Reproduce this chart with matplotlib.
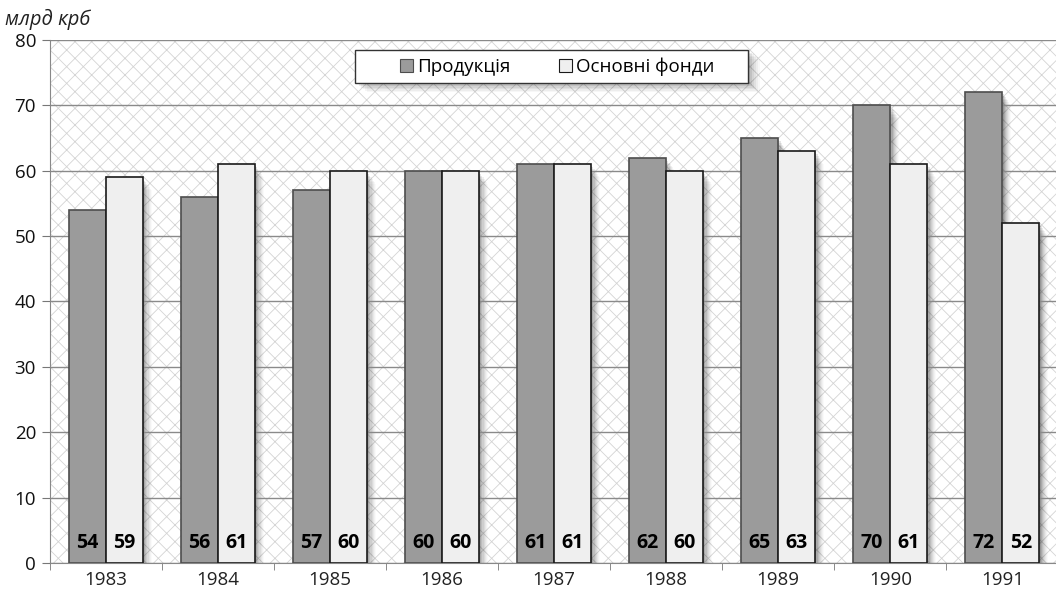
import numpy as np
import matplotlib
matplotlib.use("Agg")
import matplotlib.pyplot as plt
from matplotlib.patches import Rectangle

years = ["1983", "1984", "1985", "1986", "1987", "1988", "1989", "1990", "1991"]
production = [54, 56, 57, 60, 61, 62, 65, 70, 72]
fixed_assets = [59, 61, 60, 60, 61, 60, 63, 61, 52]
series_names = ["Продукція", "Основні фонди"]

plt.rcParams["font.family"] = ["Open Sans", "DejaVu Sans"]
plt.rcParams["hatch.linewidth"] = 0.6
plt.rcParams["hatch.color"] = "#d4d4d4"

W, H = 1056, 594
fig = plt.figure(figsize=(W / 100, H / 100), dpi=100)
ax = fig.add_axes([0.0473, 0.0522, 0.955, 0.8805])

x = np.arange(len(years))
w = 0.33

# hatched plot area background
ax.add_patch(Rectangle((0, 0), 1, 1, transform=ax.transAxes, facecolor="white",
                       edgecolor="#d4d4d4", hatch="xx", linewidth=0, zorder=0))

# soft shadows to the right of bars
for k, a in enumerate([0.12, 0.10, 0.08, 0.06, 0.05, 0.04, 0.03, 0.02]):
    off = 0.010 * (k + 1)
    ax.bar(x - w / 2 + off, np.array(production) - 0.25 * (k + 1), w, color="black",
           alpha=a, linewidth=0, zorder=1)
    ax.bar(x + w / 2 + off, np.array(fixed_assets) - 0.25 * (k + 1), w, color="black",
           alpha=a, linewidth=0, zorder=1)

ax.bar(x - w / 2, production, w, color="#9b9b9b", edgecolor="#4d4d4d", linewidth=1.2,
       zorder=3, label=series_names[0])
ax.bar(x + w / 2, fixed_assets, w, color="#efefef", edgecolor="#1a1a1a", linewidth=1.2,
       zorder=3, label=series_names[1])

for i in range(len(years)):
    ax.text(x[i] - w / 2, 3.1, str(production[i]), ha="center", va="center",
            fontsize=14, fontweight="bold", color="black", zorder=4)
    ax.text(x[i] + w / 2, 3.1, str(fixed_assets[i]), ha="center", va="center",
            fontsize=14, fontweight="bold", color="black", zorder=4)

ax.set_xlim(-0.5, len(years) - 0.5)
ax.set_ylim(0, 80)
ax.set_yticks(range(0, 81, 10))
ax.yaxis.grid(True, color="#8a8a8a", linewidth=1.0)
for gl in ax.get_ygridlines():
    gl.set_zorder(2)

ax.set_xticks(x)
ax.set_xticklabels(years)
ax.set_xticks(np.arange(-0.5, len(years), 1), minor=True)
ax.tick_params(axis="x", which="major", length=0, labelsize=13.5, pad=6, labelcolor="#222222")
ax.tick_params(axis="x", which="minor", length=5, color="#777777")
ax.tick_params(axis="y", length=6, color="#777777", labelsize=13.5, pad=4, labelcolor="#111111")

for s in ["top", "right"]:
    ax.spines[s].set_visible(False)
ax.spines["left"].set_color("#888888")
ax.spines["bottom"].set_color("#888888")

# legend box with soft shadow (pixel coords: x 355-748, y 50-83)
bx0, bx1, by0, by1 = 355 / W, 748 / W, 1 - 83 / H, 1 - 50 / H
for k, a in enumerate([0.10, 0.08, 0.06, 0.05, 0.04, 0.03]):
    d = (k + 1) / W
    dy = (k + 1) / H
    ax.add_patch(Rectangle((bx0 + 2 * d, by0 - dy * 1.5), bx1 - bx0, by1 - by0,
                           transform=fig.transFigure, facecolor="black", alpha=a,
                           linewidth=0, zorder=5, clip_on=False))
ax.add_patch(Rectangle((bx0, by0), bx1 - bx0, by1 - by0, transform=fig.transFigure,
                       facecolor="white", edgecolor="#333333", linewidth=1.0, zorder=6,
                       clip_on=False))

leg = ax.legend(loc="center", bbox_to_anchor=(557 / W, 1 - 67 / H),
                bbox_transform=fig.transFigure, ncol=2, frameon=False,
                fontsize=13.5, handlelength=0.7, handleheight=0.7, columnspacing=2.6,
                handletextpad=0.2, borderpad=0.0)
leg.set_zorder(7)
for h in leg.legend_handles:
    h.set_linewidth(0.8)

fig.text(0.005, 0.958, "млрд крб", fontsize=14.5, fontstyle="italic", color="#222222")

fig.savefig("out.png", dpi=100)
